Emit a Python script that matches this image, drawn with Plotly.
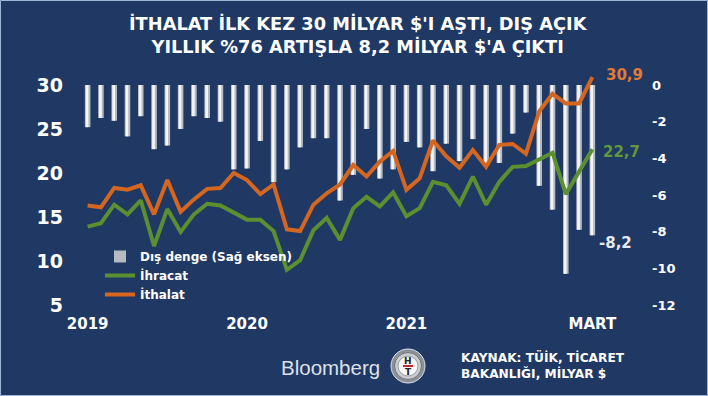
import plotly.graph_objects as go

# ---------------- data ----------------
months = [f"{y}-{m:02d}" for y in (2019, 2020, 2021) for m in range(1, 13)] + ["2022-01", "2022-02", "2022-03"]

exports = [13.9, 14.3, 16.4, 15.3, 16.9, 11.7, 15.9, 13.3, 15.3, 16.5, 16.3, 15.5,
           14.7, 14.7, 13.4, 9.0, 10.1, 13.5, 14.9, 12.4, 16.0, 17.3, 16.2, 17.8,
           15.1, 16.0, 19.0, 18.6, 16.5, 19.6, 16.4, 19.0, 20.7, 20.8, 21.5, 22.3,
           17.6, 20.1, 22.7]

imports = [16.3, 16.1, 18.3, 18.1, 18.6, 15.3, 19.2, 15.6, 17.0, 18.2, 18.3, 20.0,
           19.2, 17.6, 18.7, 13.6, 13.4, 16.4, 17.7, 18.7, 20.9, 19.6, 21.3, 22.5,
           18.1, 19.4, 23.7, 21.9, 20.6, 22.6, 20.7, 23.2, 23.3, 22.2, 27.0, 29.0,
           27.9, 27.9, 30.9]

balance = [-2.3, -1.8, -1.95, -2.8, -1.7, -3.5, -3.3, -2.4, -1.7, -1.8, -2.0, -4.6,
           -4.55, -3.05, -5.3, -4.6, -3.4, -2.9, -2.9, -6.3, -4.9, -2.4, -5.1, -4.6,
           -3.1, -3.4, -4.7, -3.2, -4.15, -2.95, -4.35, -4.25, -2.65, -1.5, -5.5, -6.8,
           -10.3, -7.9, -8.2]

x_tick_vals = ["2019-01", "2020-01", "2021-01", "2022-03"]
x_tick_text = ["2019", "2020", "2021", "MART"]
left_ticks = [5, 10, 15, 20, 25, 30]
right_ticks = [0, -2, -4, -6, -8, -10, -12]

title_lines = ["İTHALAT İLK KEZ 30 MİLYAR $'I AŞTI, DIŞ AÇIK",
               "YILLIK %76 ARTIŞLA 8,2 MİLYAR $'A ÇIKTI"]
names = ["Dış denge (Sağ eksen)", "İhracat", "İthalat"]
source_lines = ["KAYNAK: TÜİK, TİCARET", "BAKANLIĞI, MİLYAR $"]

# ---------------- style / geometry ----------------
W, H = 708, 396
BG = "#1f3864"
ORANGE = "#d4661f"
GREEN = "#5b8f30"
L, R, T, B = 81, 599, 67, 305
pw, ph = R - L, B - T
left_px_per_unit = 220 / 25.0
right_px_per_unit = 220 / 12.0


def px2x(px):
    return (px - L) / pw


def py2y(py):
    return (B - py) / ph


def fmt(v):
    return f"{v:.1f}".replace(".", ",")


fig = go.Figure()

fig.add_trace(go.Bar(x=months, y=balance, yaxis="y", name=names[0],
                     marker=dict(color="#b4b9c2", line=dict(width=0)), width=0.42,
                     showlegend=True))
fig.add_trace(go.Bar(x=months, y=balance, yaxis="y", name=names[0],
                     marker=dict(color="#f4f5f7", line=dict(width=0)), width=0.2, offset=-0.14,
                     showlegend=False, hoverinfo="skip"))
fig.add_trace(go.Scatter(x=months, y=exports, yaxis="y2", name=names[1], mode="lines",
                         line=dict(color=GREEN, width=4)))
fig.add_trace(go.Scatter(x=months, y=imports, yaxis="y2", name=names[2], mode="lines",
                         line=dict(color=ORANGE, width=4), cliponaxis=False))

bold = dict(family="DejaVu Sans", color="white", weight="bold")

fig.update_layout(
    width=W, height=H,
    paper_bgcolor=BG, plot_bgcolor=BG,
    margin=dict(l=L, r=W - R, t=T, b=H - B),
    barmode="overlay",
    showlegend=True,
    legend=dict(x=px2x(100), y=py2y(242), xanchor="left", yanchor="top",
                bgcolor="rgba(0,0,0,0)", font=dict(size=12, **bold),
                traceorder="normal", tracegroupgap=0, itemwidth=30),
    xaxis=dict(type="category", categoryorder="array", categoryarray=months,
               range=[-0.5, len(months) - 0.5],
               tickvals=x_tick_vals, ticktext=x_tick_text, showgrid=False,
               zeroline=False, showline=False, ticks="", ticklabelstandoff=8,
               tickfont=dict(size=15, **bold)),
    yaxis=dict(side="right", range=[-12, -12 + ph / right_px_per_unit],
               tickvals=right_ticks, ticktext=[str(v) for v in right_ticks],
               showgrid=False, zeroline=False, showline=False, ticks="",
               ticklabelstandoff=52, tickfont=dict(size=13, **bold)),
    yaxis2=dict(side="left", overlaying="y", range=[5, 5 + ph / left_px_per_unit],
                tickvals=left_ticks, showgrid=False, zeroline=False, showline=False,
                ticks="", ticklabelstandoff=17, tickfont=dict(size=19, **bold)),
)

ann = []
ann.append(dict(text="<br>".join(title_lines), xref="paper", yref="paper",
                x=px2x(358), y=py2y(35), xanchor="center", yanchor="middle",
                showarrow=False, align="center",
                font=dict(size=17.8, **bold)))
ann.append(dict(text=fmt(imports[-1]), x=months[-1], y=imports[-1], xref="x", yref="y2",
                xanchor="left", yanchor="middle", xshift=12, yshift=2, showarrow=False,
                font=dict(size=15, family="DejaVu Sans", weight="bold", color="#e27a34")))
ann.append(dict(text=fmt(exports[-1]), x=months[-1], y=exports[-1], xref="x", yref="y2",
                xanchor="left", yanchor="middle", xshift=9, yshift=-3, showarrow=False,
                font=dict(size=15, family="DejaVu Sans", weight="bold", color="#62973a")))
ann.append(dict(text=fmt(balance[-1]), x=months[-1], y=balance[-1], xref="x", yref="y",
                xanchor="left", yanchor="middle", xshift=5, yshift=-8, showarrow=False,
                font=dict(size=15, family="DejaVu Sans", weight="bold", color="#e6e8ec")))
ann.append(dict(text="Bloomberg", xref="paper", yref="paper", x=px2x(330), y=py2y(367),
                xanchor="center", yanchor="middle", showarrow=False,
                font=dict(size=20.5, family="Liberation Sans", color="#dde1e8")))
ann.append(dict(text="<br>".join(source_lines), xref="paper", yref="paper",
                x=px2x(459), y=py2y(365), xanchor="left", yanchor="middle",
                showarrow=False, align="left",
                font=dict(size=12.2, **bold)))

# logo
cx, cy = 408, 366
shapes = []
for r, fill, line in [(17, "#8c9099", "#dfe2e6"), (13.5, "#c9ccd1", "#6f747c"), (10, "#f6f6f6", "#9a9ea6")]:
    shapes.append(dict(type="circle", xref="paper", yref="paper",
                       x0=px2x(cx - r), x1=px2x(cx + r), y0=py2y(cy + r), y1=py2y(cy - r),
                       fillcolor=fill, line=dict(color=line, width=1)))
shapes.append(dict(type="line", xref="paper", yref="paper", x0=px2x(cx - 5), x1=px2x(cx + 5),
                   y0=py2y(cy), y1=py2y(cy), line=dict(color="#c0272d", width=2)))
ann.append(dict(text="H", xref="paper", yref="paper", x=px2x(cx), y=py2y(cy - 5),
                xanchor="center", yanchor="middle", showarrow=False,
                font=dict(size=9, family="DejaVu Sans", weight="bold", color="#222222")))
ann.append(dict(text="T", xref="paper", yref="paper", x=px2x(cx), y=py2y(cy + 5.5),
                xanchor="center", yanchor="middle", showarrow=False,
                font=dict(size=9, family="DejaVu Sans", weight="bold", color="#222222")))
# frame
shapes.append(dict(type="rect", xref="paper", yref="paper", x0=px2x(0.5), x1=px2x(W - 0.5),
                   y0=py2y(H - 0.5), y1=py2y(0.5), line=dict(color="#9fb6d8", width=1),
                   fillcolor="rgba(0,0,0,0)", layer="below"))

fig.update_layout(annotations=ann, shapes=shapes)

fig.write_html("out.html", config={"displayModeBar": False},
               post_script="document.body.style.margin='0';document.body.style.background='" + BG + "';")
